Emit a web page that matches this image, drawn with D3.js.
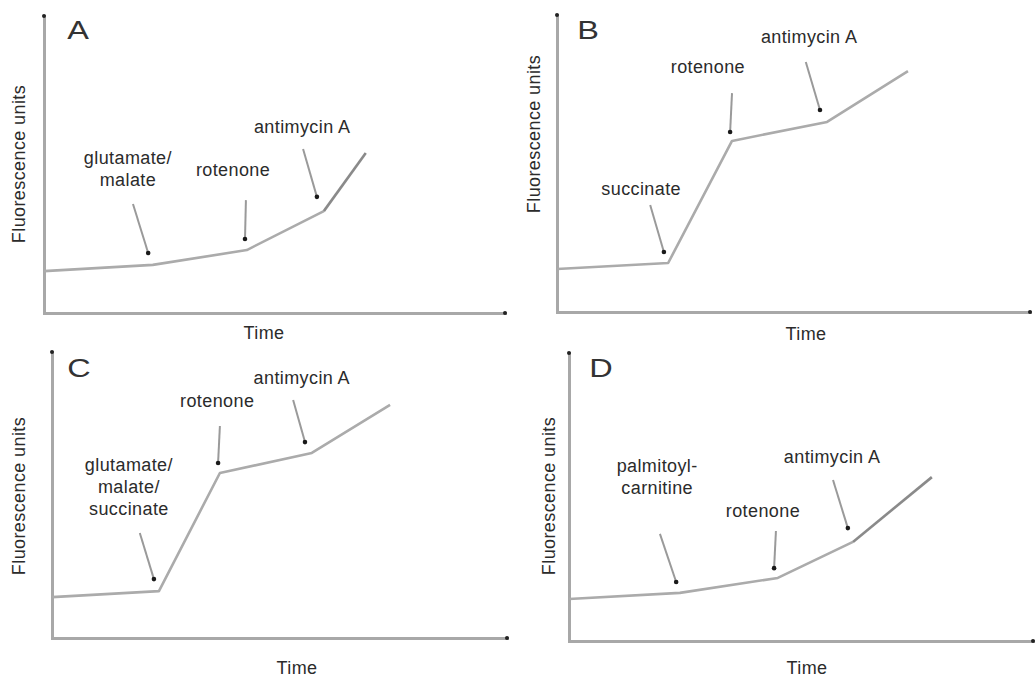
<!DOCTYPE html>
<html>
<head>
<meta charset="utf-8">
<script src="https://cdn.jsdelivr.net/npm/d3@7"></script>
<style>
  html, body { margin: 0; padding: 0; background: #fff; }
  svg { display: block; }
  text { font-family: "Liberation Sans", Arial, sans-serif; fill: #2b2b2b; }
</style>
</head>
<body>
<svg id="chart" width="1035" height="679"></svg>
<script>
// ---------- DATA (time and fluorescence in arbitrary units, 0-100) ----------
const panelNames = ["A", "B", "C", "D"];

const timeA  = [0, 23.6, 44.0, 60.7, 69.8];
const fluorA = [14.1, 16.2, 21.2, 34.3, 53.9];
const timeB  = [0, 23.5, 37.0, 57.1, 74.2];
const fluorB = [14.5, 16.5, 57.6, 64.0, 81.1];
const timeC  = [0, 23.5, 36.9, 57.1, 74.3];
const fluorC = [14.3, 16.4, 57.7, 64.7, 81.5];
const timeD  = [0, 23.9, 45.0, 61.2, 78.2];
const fluorD = [14.6, 16.7, 21.9, 34.4, 56.9];

// additions (annotation labels), one per arrow
const additionsA = [["glutamate/", "malate"], ["rotenone"], ["antimycin A"]];
const additionsB = [["succinate"], ["rotenone"], ["antimycin A"]];
const additionsC = [["glutamate/", "malate/", "succinate"], ["rotenone"], ["antimycin A"]];
const additionsD = [["palmitoyl-", "carnitine"], ["rotenone"], ["antimycin A"]];

// arrow tails / tips and label anchors, in data units [time, fluorescence]
const arrowTailA = [[19.3, 36.7], [43.8, 38.0], [56.2, 55.2]];
const arrowTipA  = [[22.6, 20.2], [43.6, 24.9], [59.2, 39.1]];
const labelAtA   = [[18.2, 50.2], [41.0, 46.1], [56.0, 60.6]];

const arrowTailB = [[19.7, 36.0], [37.0, 73.7], [52.6, 84.2]];
const arrowTipB  = [[22.6, 20.2], [36.6, 60.6], [55.6, 68.0]];
const labelAtB   = [[17.8, 39.4], [31.9, 80.5], [53.3, 90.6]];

const arrowTailC = [[19.3, 36.7], [36.9, 74.1], [53.0, 83.2]];
const arrowTipC  = [[22.4, 20.6], [36.5, 61.2], [55.6, 68.5]];
const labelAtC   = [[16.9, 58.4], [36.3, 80.8], [54.9, 88.8]];

const arrowTailD = [[19.6, 37.2], [44.6, 38.2], [56.9, 55.9]];
const arrowTipD  = [[23.1, 20.5], [44.2, 25.3], [60.1, 39.2]];
const labelAtD   = [[19.0, 58.7], [41.8, 43.1], [56.7, 61.8]];

const xTitle = "Time";
const yTitle = "Fluorescence units";

// ---------- LAYOUT (pixel boxes of each panel) ----------
const layout = {
  A: { x0: 44,  x1: 505,  y0: 313, y1: 16,  letter: [78, 39],  yt: [25, 164], xt: [264, 339], lastDark: true },
  B: { x0: 557, x1: 1030, y0: 312, y1: 15,  letter: [588, 39], yt: [540, 134], xt: [806, 340], lastDark: false },
  C: { x0: 52,  x1: 507,  y0: 638, y1: 352, letter: [79, 377], yt: [25, 496], xt: [297, 674], lastDark: false },
  D: { x0: 569, x1: 1033, y0: 641, y1: 353, letter: [601, 377], yt: [555, 496], xt: [807, 674], lastDark: true }
};

const data = {
  A: { t: timeA, f: fluorA, add: additionsA, tail: arrowTailA, tip: arrowTipA, lab: labelAtA },
  B: { t: timeB, f: fluorB, add: additionsB, tail: arrowTailB, tip: arrowTipB, lab: labelAtB },
  C: { t: timeC, f: fluorC, add: additionsC, tail: arrowTailC, tip: arrowTipC, lab: labelAtC },
  D: { t: timeD, f: fluorD, add: additionsD, tail: arrowTailD, tip: arrowTipD, lab: labelAtD }
};

const svg = d3.select("#chart");
const axisColor = "#a8a8a8";
const lineColor = "#ababab";
const darkLine = "#8a8a8a";
const fontSize = 18;
const lineHeight = 22;

panelNames.forEach(name => {
  const L = layout[name], D = data[name];
  const g = svg.append("g").attr("class", "panel-" + name);
  const x = d3.scaleLinear().domain([0, 100]).range([L.x0, L.x1]);
  const y = d3.scaleLinear().domain([0, 100]).range([L.y0, L.y1]);

  // axes (no ticks)
  const ax = g.append("g").attr("transform", `translate(0,${L.y0})`)
    .call(d3.axisBottom(x).tickValues([]).tickSizeOuter(0));
  const ay = g.append("g").attr("transform", `translate(${L.x0},0)`)
    .call(d3.axisLeft(y).tickValues([]).tickSizeOuter(0));
  [ax, ay].forEach(a => a.select(".domain")
    .attr("stroke", axisColor).attr("stroke-width", 3).attr("stroke-linecap", "square"));
  // end dots
  g.append("circle").attr("cx", x(0)).attr("cy", y(100)).attr("r", 2).attr("fill", "#222");
  g.append("circle").attr("cx", x(100)).attr("cy", y(0)).attr("r", 2).attr("fill", "#222");

  // trace
  const pts = D.t.map((t, i) => [t, D.f[i]]);
  const line = d3.line().x(d => x(d[0])).y(d => y(d[1]));
  const n = pts.length;
  g.append("path").datum(pts.slice(0, L.lastDark ? n - 1 : n))
    .attr("d", line).attr("fill", "none").attr("stroke", lineColor)
    .attr("stroke-width", 2.6).attr("stroke-linejoin", "round");
  if (L.lastDark) {
    g.append("path").datum(pts.slice(n - 2))
      .attr("d", line).attr("fill", "none").attr("stroke", darkLine)
      .attr("stroke-width", 2.6).attr("stroke-linejoin", "round");
  }

  // arrows
  D.tail.forEach((tl, i) => {
    const tp = D.tip[i];
    g.append("line")
      .attr("x1", x(tl[0])).attr("y1", y(tl[1]))
      .attr("x2", x(tp[0])).attr("y2", y(tp[1]))
      .attr("stroke", "#9a9a9a").attr("stroke-width", 2);
    g.append("circle").attr("cx", x(tp[0])).attr("cy", y(tp[1]))
      .attr("r", 2.3).attr("fill", "#1a1a1a");
  });

  // addition labels
  D.add.forEach((lines, i) => {
    const [lt, lf] = D.lab[i];
    const tx = g.append("text").attr("text-anchor", "middle")
      .attr("font-size", fontSize).attr("letter-spacing", 0.4);
    lines.forEach((s, k) => {
      tx.append("tspan").attr("x", x(lt)).attr("y", y(lf) + k * lineHeight).text(s);
    });
  });

  // panel letter
  g.append("text").attr("transform", `translate(${L.letter[0]},${L.letter[1]}) scale(1.25,1)`)
    .attr("text-anchor", "middle").attr("font-size", 26).style("fill", "#333").text(name);

  // axis titles
  g.append("text").attr("x", L.xt[0]).attr("y", L.xt[1]).attr("text-anchor", "middle")
    .attr("font-size", fontSize).attr("letter-spacing", 0.4).text(xTitle);
  g.append("text").attr("transform", `translate(${L.yt[0]},${L.yt[1]}) rotate(-90)`)
    .attr("text-anchor", "middle").attr("font-size", fontSize).attr("letter-spacing", 0.4).text(yTitle);
});
</script>
</body>
</html>
